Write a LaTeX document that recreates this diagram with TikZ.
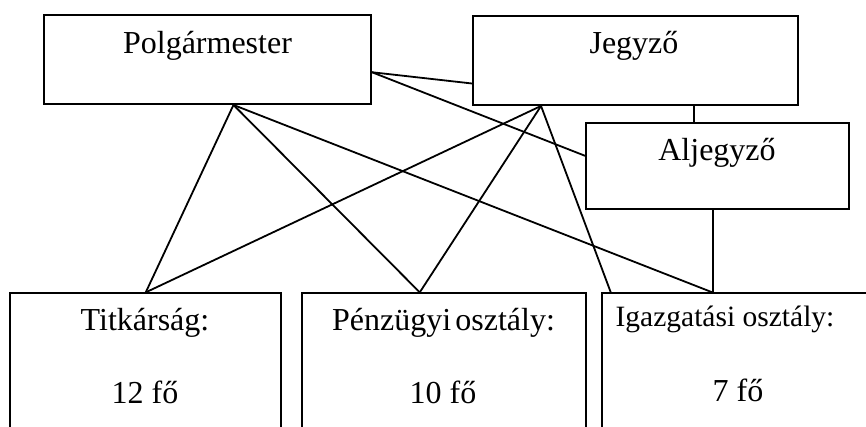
\documentclass[tikz,border=0pt]{standalone}
\usepackage{fontspec}
\setmainfont{Liberation Serif}
\usetikzlibrary{calc}
\begin{document}
\begin{tikzpicture}[x=1pt,y=-1pt,
  box/.style={draw, line width=1.9pt, rectangle, inner sep=0pt},
  conn/.style={line width=1.8pt},
  lbl/.style={anchor=base, inner sep=0pt, font=\fontsize{32}{36}\selectfont},
  lbls/.style={anchor=base, inner sep=0pt, font=\fontsize{29.5}{34}\selectfont}]
\useasboundingbox (0,0) rectangle (866,426);
\clip (0,0) rectangle (866,426);
% boxes
\node[box, minimum width=327pt, minimum height=89pt] (P) at (207.5,59.5) {};
\node[box, minimum width=325pt, minimum height=89pt] (J) at (635.5,60.5) {};
\node[box, minimum width=263pt, minimum height=86pt] (A) at (717.5,166) {};
\node[box, minimum width=270.7pt, minimum height=166.7pt] (T) at (145.35,376.65) {};
\node[box, minimum width=284.3pt, minimum height=166.7pt] (Z) at (443.85,376.65) {};
\node[box, minimum width=298.3pt, minimum height=166.7pt] (I) at (750.85,376.65) {};
% labels
\node[lbl] (tP) at (207.5,53.3) {Polgármester};
\node[lbl] (tJ) at (634,53.3) {Jegyző};
\node[lbl] (tA) at (717,160) {Aljegyző};
\node[lbl] (tT) at (145,330) {Titkárság:};
\node[lbl] (tT2) at (145,403.3) {12 fő};
\node[lbl] (tZ) at (443.5,330) {Pénzügyi\hspace{-0.12em} osztály:};
\node[lbl] (tZ2) at (443,403.3) {10 fő};
\node[lbls] (tI) at (725,326.7) {Igazgatási osztály:};
\node[lbl] (tI2) at (738,401.7) {7 fő};
% connection points
\coordinate (Pr) at ($(P.north east)!0.64!(P.south east)$);
\coordinate (Pb) at ($(P.south west)!0.579!(P.south east)$);
\coordinate (Jl) at ($(J.north west)!0.753!(J.south west)$);
\coordinate (Jb) at ($(J.south west)!0.211!(J.south east)$);
\coordinate (Jb2) at ($(J.south west)!0.678!(J.south east)$);
\coordinate (Al) at ($(A.north west)!0.384!(A.south west)$);
\coordinate (Ab) at ($(A.south west)!0.484!(A.south east)$);
\coordinate (Tt) at ($(T.north west)+(136.7,0)$);
\coordinate (Zt) at ($(Z.north west)+(119,0)$);
\coordinate (It1) at ($(I.north west)+(10,0)$);
\coordinate (It2) at ($(I.north west)+(111.6,0)$);
% connectors
\draw[conn] (Pr) -- (Jl);
\draw[conn] (Pr) -- (Al);
\draw[conn] (Pb) -- (Tt);
\draw[conn] (Pb) -- (Zt);
\draw[conn] (Pb) -- (It2);
\draw[conn] (Jb) -- (Tt);
\draw[conn] (Jb) -- (Zt);
\draw[conn] (Jb) -- (It1);
\draw[conn] (Jb2) -- (Jb2 |- A.north);
\draw[conn] (Ab) -- (Ab |- I.north);
\end{tikzpicture}
\end{document}
